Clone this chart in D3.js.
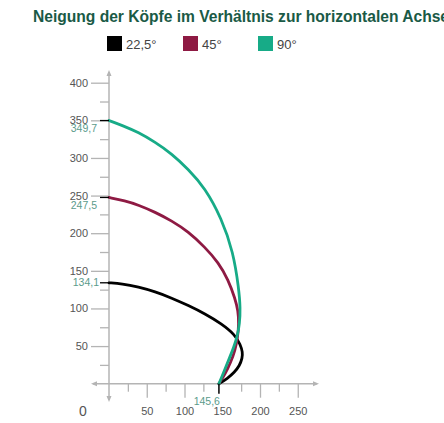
<!DOCTYPE html>
<html><head><meta charset="utf-8">
<script src="https://cdn.jsdelivr.net/npm/d3@7/dist/d3.min.js"></script>
<style>body{margin:0;background:#fff}svg{display:block}text{font-family:"Liberation Sans",Arial,sans-serif}</style>
</head><body>
<script>
const title = "Neigung der Köpfe im Verhältnis zur horizontalen Achse";
const seriesNames = ["22,5°", "45°", "90°"];
const seriesColors = ["#000000", "#8e1a43", "#17ab87"];
const s225 = [[0,134.1],[17,132.9],[39,128.5],[61,122.3],[83,113.9],[105,104],[127,93],[149,79.7],[167,65],[174,52],[177,42],[176.5,34],[173,24],[166,15],[157,7],[145.6,0]];
const s45 = [[0,247.5],[21,243],[39,237.5],[61,228],[83,216.5],[105,202],[127,181.5],[145,161],[158,138],[167,113],[171,97],[172,80],[170.5,62],[167,44],[161,28],[154,13],[145.6,0]];
const s90 = [[0,349.7],[18,343],[39,334],[61,321],[83,305.7],[105,285],[127,260.4],[149,220],[164.6,175],[172,126],[174,100],[173,80],[170,63],[165,48],[160.3,36],[151.4,14],[145.6,0]];
const yMajor = [50,100,150,200,250,300,350,400];
const yMinor = [25,75,125,175,225,275,325,375];
const xMajorTicks = [50,100,200,250];
const xLabels = [50,100,150,200,250];
const xMinor = [25,75,125,175,225];
const startLabels = [{v:349.7,t:"349,7",pos:"below"},{v:247.5,t:"247,5",pos:"below"},{v:134.1,t:"134,1",pos:"side"}];
const endValue = 145.6, endLabel = "145,6";

const W=444,H=423;
const svg=d3.select("body").append("svg").attr("width",W).attr("height",H);
const x=d3.scaleLinear().domain([0,250]).range([109,297.75]);
const y=d3.scaleLinear().domain([0,400]).range([383.7,82.7]);
const axisCol="#b4b4b4";

svg.append("text").attr("x",33).attr("y",22).attr("font-size",16).attr("font-weight","bold")
  .attr("fill","#1a5a46").attr("textLength",416).attr("lengthAdjust","spacingAndGlyphs").text(title);

const legX=[107,183,258];
seriesNames.forEach((n,i)=>{
  svg.append("rect").attr("x",legX[i]).attr("y",36).attr("width",15).attr("height",15).attr("fill",seriesColors[i]);
  svg.append("text").attr("x",legX[i]+19).attr("y",49).attr("font-size",13).attr("fill","#444").text(n);
});

// y axis
const gyMin=svg.append("g").attr("transform",`translate(${x(0)},0)`).call(d3.axisLeft(y).tickValues(yMinor).tickSize(9).tickFormat(""));
const gyMaj=svg.append("g").attr("transform",`translate(${x(0)},0)`).call(d3.axisLeft(y).tickValues(yMajor).tickSize(18).tickPadding(3));
// x axis
const gxMin=svg.append("g").attr("transform",`translate(0,${y(0)})`).call(d3.axisBottom(x).tickValues(xMinor).tickSize(8).tickFormat(""));
const gxMaj=svg.append("g").attr("transform",`translate(0,${y(0)})`).call(d3.axisBottom(x).tickValues(xMajorTicks).tickSize(14).tickFormat(""));
const gxLab=svg.append("g").attr("transform",`translate(0,${y(0)})`).call(d3.axisBottom(x).tickValues(xLabels).tickSize(0).tickPadding(24));
[gyMin,gyMaj,gxMin,gxMaj,gxLab].forEach(g=>{
  g.select(".domain").remove();
  g.selectAll("line").attr("stroke",axisCol).attr("stroke-width",1.3);
  g.selectAll("text").attr("font-family","Liberation Sans, Arial, sans-serif").attr("font-size",11).attr("fill","#555");
});
svg.append("line").attr("x1",x(0)).attr("x2",x(0)).attr("y1",400).attr("y2",72).attr("stroke",axisCol).attr("stroke-width",1.5);
svg.append("path").attr("d",`M${x(0)-2.5},76 L${x(0)},70 L${x(0)+2.5},76 Z`).attr("fill",axisCol);
svg.append("path").attr("d",`M${x(0)-2.5},396 L${x(0)},402 L${x(0)+2.5},396 Z`).attr("fill",axisCol);
svg.append("line").attr("x1",93).attr("x2",317).attr("y1",y(0)).attr("y2",y(0)).attr("stroke",axisCol).attr("stroke-width",1.5);
svg.append("path").attr("d",`M313,${y(0)-2.5} L319,${y(0)} L313,${y(0)+2.5} Z`).attr("fill",axisCol);
svg.append("path").attr("d",`M97,${y(0)-2.5} L91,${y(0)} L97,${y(0)+2.5} Z`).attr("fill",axisCol);
svg.append("text").attr("x",83).attr("y",416).attr("text-anchor","middle").attr("font-size",14).attr("fill","#555").text("0");

// curves
const line=d3.line().x(d=>x(d[0])).y(d=>y(d[1])).curve(d3.curveBasis);
[s225,s45,s90].forEach((s,i)=>{
  svg.append("path").datum(s).attr("d",line).attr("fill","none").attr("stroke",seriesColors[i]).attr("stroke-width",2.8).attr("stroke-linecap","round");
});

// start labels
startLabels.forEach(l=>{
  svg.append("line").attr("x1",x(0)-9).attr("x2",x(0)).attr("y1",y(l.v)).attr("y2",y(l.v)).attr("stroke","#000").attr("stroke-width",1.3);
  const t=svg.append("text").attr("text-anchor","end").attr("font-size",10.5).attr("fill","#5b9b8b").text(l.t);
  if(l.pos==="below") t.attr("x",x(0)-12).attr("y",y(l.v)+11.5);
  else t.attr("x",x(0)-10).attr("y",y(l.v)+3.5);
});
svg.append("line").attr("x1",x(endValue)).attr("x2",x(endValue)).attr("y1",y(0)).attr("y2",y(0)+10).attr("stroke","#000").attr("stroke-width",1.5);
svg.append("text").attr("x",x(endValue)+1).attr("y",405).attr("text-anchor","end").attr("font-size",10.5).attr("fill","#5b9b8b").text(endLabel);
</script>
</body></html>
